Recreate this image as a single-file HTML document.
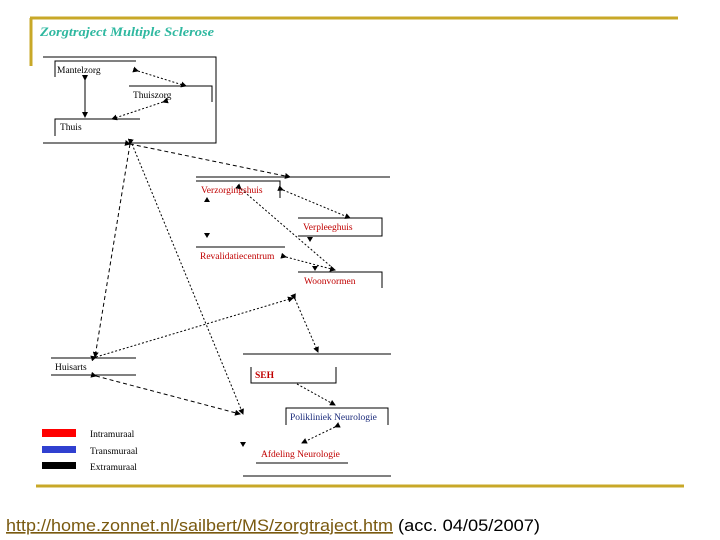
<!DOCTYPE html>
<html><head><meta charset="utf-8"><style>
html,body{margin:0;padding:0;background:#fff;width:720px;height:540px;overflow:hidden}
svg{position:absolute;left:0;top:0}
</style></head><body>
<svg width="720" height="540" viewBox="0 0 720 540" xmlns="http://www.w3.org/2000/svg">
<defs>
<marker id="a" markerWidth="6" markerHeight="6" refX="5" refY="3" orient="auto"><path d="M0,0L6,3L0,6z" fill="#000"/></marker>
</defs>
<g stroke="#c8a828" stroke-width="3" fill="none">
<line x1="30" y1="18" x2="678" y2="18"/>
<line x1="31" y1="18" x2="31" y2="66"/>
<line x1="36" y1="486" x2="684" y2="486"/>
</g>
<text x="40" y="36" font-family="Liberation Serif,serif" font-style="italic" font-weight="bold" font-size="13" fill="#2fb8a0" textLength="174" lengthAdjust="spacingAndGlyphs">Zorgtraject Multiple Sclerose</text>
<g stroke="#000" stroke-width="1" fill="none">
<polyline points="43,57 216,57 216,143 43,143"/>
<polyline points="55,77 55,61 136,61"/>
<polyline points="129,86 212,86 212,102"/>
<polyline points="55,136 55,119 140,119"/>
<line x1="196" y1="177" x2="390" y2="177"/>
<polyline points="196,181 280,181 280,198"/>
<polyline points="298,218 382,218 382,236 298,236"/>
<line x1="196" y1="247" x2="285" y2="247"/>
<polyline points="298,272 382,272 382,288"/>
<line x1="51" y1="358" x2="136" y2="358"/>
<line x1="51" y1="375" x2="136" y2="375"/>
<line x1="243" y1="354" x2="391" y2="354"/>
<polyline points="251,367 251,383 336,383 336,367"/>
<polyline points="286,425 286,408 388,408 388,425"/>
<line x1="256" y1="463" x2="348" y2="463"/>
<line x1="243" y1="476" x2="391" y2="476"/>
<line x1="85" y1="80" x2="85" y2="117" marker-start="url(#a)" marker-end="url(#a)"/>
</g>
<g stroke="#000" stroke-width="1" fill="none" stroke-dasharray="2,2">
<line x1="138" y1="71" x2="186" y2="86" marker-start="url(#a)" marker-end="url(#a)"/>
<line x1="163" y1="102" x2="112" y2="119" marker-start="url(#a)" marker-end="url(#a)"/>
<line x1="130" y1="144" x2="290" y2="177" marker-start="url(#a)" marker-end="url(#a)" stroke-dasharray="4,3"/>
<line x1="130" y1="144" x2="95" y2="357" marker-start="url(#a)" marker-end="url(#a)" stroke-dasharray="4,3"/>
<line x1="132" y1="144" x2="243" y2="414" marker-end="url(#a)"/>
<line x1="96" y1="357" x2="293" y2="298" marker-start="url(#a)" marker-end="url(#a)"/>
<line x1="96" y1="376" x2="240" y2="414" marker-start="url(#a)" marker-end="url(#a)" stroke-dasharray="4,3"/>
<line x1="283" y1="190" x2="350" y2="218" marker-start="url(#a)" marker-end="url(#a)"/>
<line x1="241" y1="189" x2="335" y2="270" marker-start="url(#a)"/>
<line x1="286" y1="257" x2="335" y2="270" marker-start="url(#a)" marker-end="url(#a)"/>
<line x1="295" y1="299" x2="318" y2="352" marker-start="url(#a)" marker-end="url(#a)"/>
<line x1="297" y1="384" x2="335" y2="405" marker-end="url(#a)"/>
<line x1="335" y1="427" x2="302" y2="443" marker-start="url(#a)" marker-end="url(#a)"/>
</g>
<g fill="#000">
<path d="M207,203l-3,-5h6z" transform="rotate(180 207 200)"/>
<path d="M204,233h6l-3,5z"/>
<path d="M310,238l3,5h-6z" transform="rotate(180 310 240)"/>
<path d="M312,266h6l-3,5z"/>
<path d="M240,442h6l-3,5z"/>
</g>
<g font-family="Liberation Serif,serif" font-size="9.5">
<text x="57" y="73" fill="#000">Mantelzorg</text>
<text x="133" y="98" fill="#000">Thuiszorg</text>
<text x="60" y="130" fill="#000">Thuis</text>
<text x="201" y="193" fill="#c00000">Verzorgingshuis</text>
<text x="303" y="230" fill="#c00000">Verpleeghuis</text>
<text x="200" y="259" fill="#c00000">Revalidatiecentrum</text>
<text x="304" y="284" fill="#c00000">Woonvormen</text>
<text x="55" y="370" fill="#000">Huisarts</text>
<text x="255" y="378" fill="#c00000" font-weight="bold">SEH</text>
<text x="290" y="420" fill="#1a2a7a">Polikliniek Neurologie</text>
<text x="261" y="457" fill="#c00000">Afdeling Neurologie</text>
<text x="90" y="437" fill="#000">Intramuraal</text>
<text x="90" y="454" fill="#000">Transmuraal</text>
<text x="90" y="470" fill="#000">Extramuraal</text>
</g>
<rect x="42" y="429" width="34" height="8" fill="#ff0000"/>
<rect x="42" y="446" width="34" height="7" fill="#3040d0"/>
<rect x="42" y="462" width="34" height="7" fill="#000"/>
<text x="6" y="531" font-family="Liberation Sans,sans-serif" font-size="16.5" fill="#7a5a10" text-decoration="underline" textLength="387" lengthAdjust="spacingAndGlyphs">http://home.zonnet.nl/sailbert/MS/zorgtraject.htm</text>
<text x="398" y="531" font-family="Liberation Sans,sans-serif" font-size="16.5" fill="#000" textLength="142" lengthAdjust="spacingAndGlyphs">(acc. 04/05/2007)</text>
</svg>
</body></html>
